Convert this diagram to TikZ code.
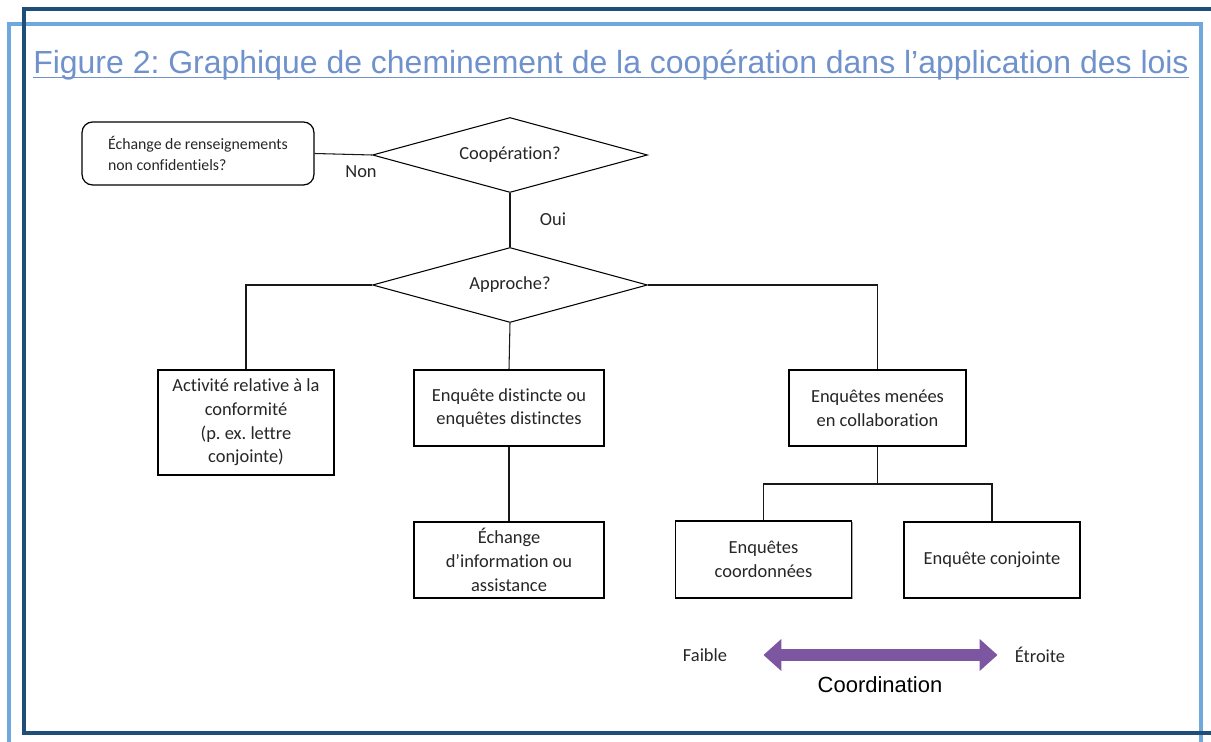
\documentclass[tikz,border=0pt]{standalone}
\usepackage{fontspec}
\setmainfont{Carlito}[Ligatures={NoCommon}]
\newfontfamily\arialfont{Liberation Sans}
\usepackage{tikz}
\usetikzlibrary{positioning}
\usetikzlibrary{shapes.geometric,shadows}
\usetikzlibrary{arrows.meta}
\definecolor{titleblue}{RGB}{112,146,204}
\definecolor{framelight}{RGB}{111,168,220}
\definecolor{framedark}{RGB}{31,78,121}
\definecolor{coordpurple}{RGB}{124,86,160}
\colorlet{txt}{black!85}
\frenchspacing
\tikzset{
  box/.style={draw, line width=0.7pt, fill=white, align=center, inner sep=0pt,
    text=txt, font=\fontsize{10.5}{13.5}\selectfont,
    drop shadow={shadow xshift=0.8pt, shadow yshift=-0.8pt, fill=black, opacity=0.35}},
  choice/.style={draw, diamond, aspect=3.7, line width=0.6pt, inner sep=0pt, text=txt,
    minimum width=5.5cm, minimum height=1.5cm, font=\fontsize{10.5}{12}\selectfont},
  lbl/.style={text=txt, inner sep=0pt, font=\fontsize{10.5}{12}\selectfont},
  link/.style={line width=0.6pt, black!90}
}

\begin{document}
\begin{tikzpicture}[x=0.02cm, y=-0.02cm]
\useasboundingbox (0,0) rectangle (1211,742);

% ---------- Frames ----------
\draw[framelight, line width=2.8pt] (9,24) rectangle (1201,780);
\draw[framedark, line width=2.8pt] (24,9) rectangle (1240,733);

% ---------- Title ----------
\node[anchor=base, inner sep=0pt, text=titleblue, font=\arialfont\fontsize{18.2}{20}\selectfont]
  (title) at (611,74) {Figure 2: Graphique de cheminement de la coopération dans l’application des lois};
\draw[titleblue, line width=1.1pt] ([yshift=-2pt]title.base west) -- ([yshift=-2pt]title.base east);

% ---------- Decisions ----------
\node[choice] (coop) at (510,155) {Coopération?};
\node[choice] (approche) at (510,285) {Approche?};

\node[draw, rounded corners=6pt, line width=0.7pt, align=left, text=txt,
  minimum width=4.64cm, minimum height=1.26cm, inner sep=0pt,
  font=\fontsize{9}{12}\selectfont] (echange) at (198,153.5)
  {Échange de renseignements\\non confidentiels?};

\node[lbl] (non) at (361,172) {Non};
\node[lbl] (oui) at (553,219) {Oui};

% ---------- Boxes ----------
\node[box, minimum width=3.52cm, minimum height=2.1cm] (activite) at (246,422.5)
  {Activité relative à la\\conformité\\(p. ex. lettre\\conjointe)};
\node[box, minimum width=3.8cm, minimum height=1.52cm] (distincte) at (509,408)
  {Enquête distincte ou\\enquêtes distinctes};
\node[box, minimum width=3.54cm, minimum height=1.52cm] (collab) at (877.5,408)
  {Enquêtes menées\\en collaboration};
\node[box, minimum width=3.8cm, minimum height=1.52cm] (assist) at (509,560)
  {Échange\\d’information ou\\assistance};
\node[box, minimum width=3.52cm, minimum height=1.54cm] (coord) at (763.5,559.5)
  {Enquêtes\\coordonnées};
\node[box, minimum width=3.52cm, minimum height=1.52cm] (conjointe) at (992,560)
  {Enquête conjointe};

% ---------- Connectors ----------
\draw[link] (echange.east) -- (coop.west);
\draw[link] (coop.south) -- (approche.north);
\draw[link] (approche.west) -| (activite.north);
\draw[link] (approche.south) -- (distincte.north);
\draw[link] (approche.east) -| (collab.north);
\draw[link] (distincte.south) -- (assist.north);
\coordinate (split) at (877.5,484);
\draw[link] (collab.south) -- (split);
\draw[link] (split) -| (coord.north);
\draw[link] (split) -| (conjointe.north);

% ---------- Coordination scale ----------
\node[lbl] (faible) at (705,655) {Faible};
\node[lbl] (etroite) at (1040,655) {Étroite};
\draw[coordpurple, line width=0.24cm,
  {Triangle[length=0.36cm,width=0.62cm]}-{Triangle[length=0.36cm,width=0.62cm]},
  shorten <=0.72cm, shorten >=0.34cm] (faible.east) -- (etroite.west);
\node[inner sep=0pt, font=\arialfont\fontsize{12.5}{14}\selectfont] (coordination) at (880,685) {Coordination};

\end{tikzpicture}
\end{document}
